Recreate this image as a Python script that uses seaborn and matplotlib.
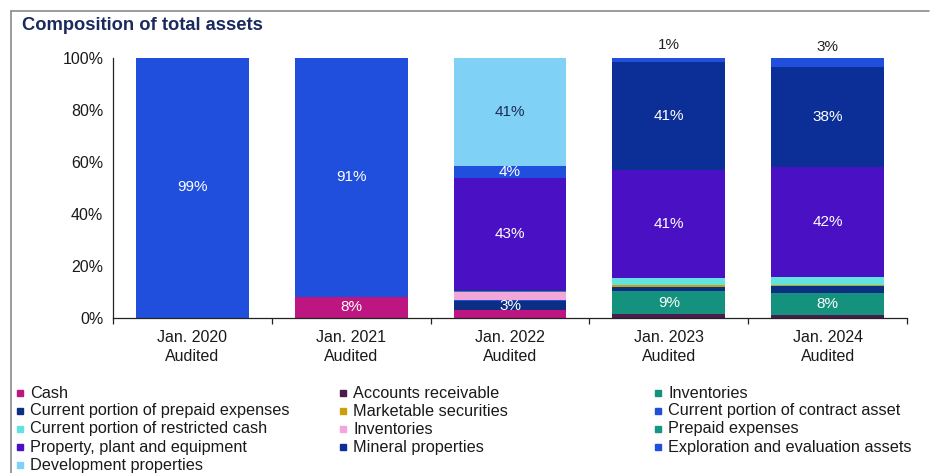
import matplotlib
matplotlib.use("Agg")
import matplotlib.pyplot as plt
from matplotlib.lines import Line2D
import numpy as np
import pandas as pd
import seaborn as sns

# Reporting periods
periods = ["Jan. 2020", "Jan. 2021", "Jan. 2022", "Jan. 2023", "Jan. 2024"]
period_status = ["Audited", "Audited", "Audited", "Audited", "Audited"]

# Asset components, bottom of stack first
series_keys = [
    "cash", "receivables", "inventories_a", "prepaid_current", "securities",
    "contract_asset", "restricted_cash", "inventories_b", "prepaid",
    "ppe", "mineral", "exploration", "development",
]
series_labels = [
    "Cash", "Accounts receivable", "Inventories",
    "Current portion of prepaid expenses", "Marketable securities",
    "Current portion of contract asset", "Current portion of restricted cash",
    "Inventories", "Prepaid expenses", "Property, plant and equipment",
    "Mineral properties", "Exploration and evaluation assets",
    "Development properties",
]
series_colors = [
    "#BE1680", "#4A1B4C", "#14927E", "#0C2F84", "#C9A00C",
    "#2050DA", "#62E3E0", "#F3A6DA", "#169484", "#4A11C4",
    "#0B2F96", "#1F4FDC", "#7FD2F6",
]

# Share of total assets (%)
cash = [0.0, 8.2, 2.95, 0.0, 0.0]
receivables = [0.0, 0.0, 0.0, 1.4, 1.3]
inventories_a = [0.0, 0.0, 0.0, 8.9, 8.3]
prepaid_current = [0.0, 0.0, 3.45, 1.6, 2.7]
securities = [0.0, 0.0, 0.0, 0.7, 0.4]
contract_asset = [0.6, 0.5, 0.6, 0.0, 0.0]
restricted_cash = [0.0, 0.0, 0.0, 2.95, 2.95]
inventories_b = [0.0, 0.0, 2.95, 0.0, 0.0]
prepaid = [0.0, 0.0, 0.6, 0.0, 0.0]
ppe = [0.0, 0.0, 43.45, 41.45, 42.45]
mineral = [0.0, 0.0, 0.0, 41.45, 38.45]
exploration = [99.4, 91.3, 4.45, 1.45, 3.45]
development = [0.0, 0.0, 41.45, 0.0, 0.0]

values = {
    "cash": cash, "receivables": receivables, "inventories_a": inventories_a,
    "prepaid_current": prepaid_current, "securities": securities,
    "contract_asset": contract_asset, "restricted_cash": restricted_cash,
    "inventories_b": inventories_b, "prepaid": prepaid, "ppe": ppe,
    "mineral": mineral, "exploration": exploration, "development": development,
}

rows = []
for key in series_keys:
    for i, p in enumerate(periods):
        rows.append({"period": p, "component": key, "share": values[key][i]})
df = pd.DataFrame(rows)

sns.set_theme(style="white")
plt.rcParams["font.family"] = ["Liberation Sans", "DejaVu Sans"]

W, H = 930, 473
fig = plt.figure(figsize=(W / 100, H / 100), dpi=100)
ax = fig.add_axes([113 / W, 1 - 318 / H, (907 - 113) / W, (318 - 58) / H])

palette = dict(zip(series_keys, series_colors))
# seaborn stacks the last hue level at the bottom
sns.histplot(
    data=df, x="period", weights="share", hue="component",
    hue_order=series_keys[::-1], palette=palette, multiple="stack",
    discrete=True, shrink=0.71, alpha=1, linewidth=0, legend=False, ax=ax,
)

ax.set_xlim(-0.5, len(periods) - 0.5)
ax.set_ylim(0, 100)
ax.set_yticks(np.arange(0, 101, 20))
ax.set_yticklabels([f"{v}%" for v in range(0, 101, 20)])
ax.set_xticks(range(len(periods)))
ax.set_xticklabels([f"{p}\n{s}" for p, s in zip(periods, period_status)],
                   linespacing=1.3)
ax.set_xticks(np.arange(-0.5, len(periods), 1.0), minor=True)
ax.set_xlabel("")
ax.set_ylabel("")

for side in ["top", "right"]:
    ax.spines[side].set_visible(False)
for side in ["left", "bottom"]:
    ax.spines[side].set_color("#222222")
    ax.spines[side].set_linewidth(0.9)

ax.tick_params(axis="y", which="major", direction="out", length=4, width=0.9,
               color="#222222", labelsize=11.5, labelcolor="#1a1a1a", pad=3)
ax.tick_params(axis="x", which="major", length=0, labelsize=11.5,
               labelcolor="#1a1a1a", pad=9)
ax.tick_params(axis="x", which="minor", direction="out", length=4, width=0.9,
               color="#222222", bottom=True)
ax.grid(False)

# Segment labels
for i in range(len(periods)):
    base = 0.0
    top_key = [k for k in series_keys if values[k][i] > 0][-1]
    for key in series_keys:
        v = values[key][i]
        if v <= 0:
            continue
        if key == top_key and v < 5 and i >= 3:
            ax.text(i, base + v / 2 + 5.8, f"{v:.0f}%", ha="center",
                    va="center", fontsize=11, color="#222222")
        elif v >= 3:
            ax.text(i, base + v / 2, f"{v:.0f}%", ha="center", va="center",
                    fontsize=11,
                    color="#1E2B58" if key == "development" else "white")
        base += v

# Title
fig.text(22 / W, 1 - 25 / H, "Composition of total assets", ha="left",
         va="center", fontsize=13.2, fontweight="bold", color="#1B2A5E")

# Outer frame (left and top edges)
fig.add_artist(Line2D([11 / W, 11 / W], [1 - 11 / H, 0], transform=fig.transFigure,
                      color="#8a8a8a", lw=1.2))
fig.add_artist(Line2D([11 / W, 929 / W], [1 - 11 / H, 1 - 11 / H],
                      transform=fig.transFigure, color="#8a8a8a", lw=1.2))

# Legend in three columns, filled row by row
col_x = [20, 343, 658]
row_y0, row_dy = 393, 18
for j, (label, color) in enumerate(zip(series_labels, series_colors)):
    r, c = divmod(j, 3)
    x = col_x[c]
    y = row_y0 + r * row_dy
    fig.add_artist(Line2D([x / W], [1 - y / H], transform=fig.transFigure,
                          marker="s", markersize=4.5, color=color, lw=0))
    fig.text((x + 10) / W, 1 - y / H, label, ha="left", va="center",
             fontsize=11.7, color="#1a1a1a")

fig.savefig("out.png", dpi=100)
